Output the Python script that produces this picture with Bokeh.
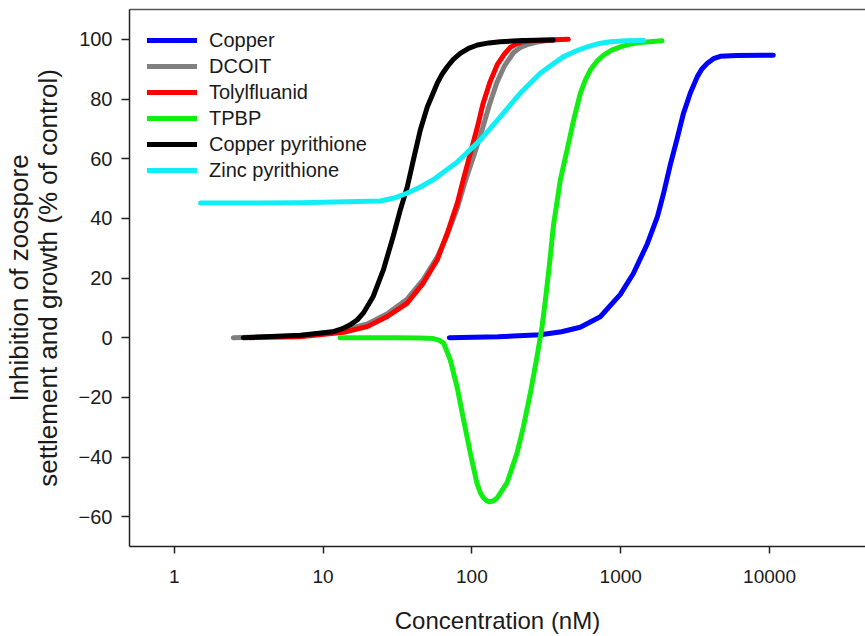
from bokeh.plotting import figure
from bokeh.models import Range1d, FixedTicker, LogAxis, Legend, LegendItem
from bokeh.embed import file_html
from bokeh.resources import INLINE

# ---- data (concentration in nM, inhibition in % of control) ----
copper_conc = [70.5, 150, 288, 400, 535, 729, 994, 1216, 1510, 1763, 1933, 2155, 2401, 2634, 2936, 3272, 3500, 3822, 4200, 4670, 6000, 10600]
copper_inh = [0, 0.3, 1, 2, 3.5, 7, 14.5, 21.5, 31.5, 40.5, 48, 58, 67, 75, 82, 87.5, 90, 92, 93.5, 94.3, 94.6, 94.7]

dcoit_conc = [2.49, 7, 13.7, 19.8, 27, 36.8, 47.1, 58.5, 68.3, 79.8, 90.3, 103, 117, 131, 147, 165, 190, 210, 235, 270, 311, 363]
dcoit_inh = [0, 0.6, 2.5, 4.6, 8, 13, 19.5, 27, 34.5, 43.5, 52.5, 61, 69.6, 78, 85.5, 91, 95.5, 97.2, 98.2, 99, 99.5, 99.8]

tolyl_conc = [3.2, 7, 13.7, 19.8, 27, 36.8, 47.1, 58.5, 68.3, 79.8, 87.5, 97.6, 109, 119, 133, 148, 165, 181, 200, 221, 260, 321, 444]
tolyl_inh = [0, 0.3, 1.8, 3.7, 7.1, 11.6, 18.3, 26.1, 35, 45.1, 52.9, 61.8, 70.7, 78.6, 86, 91.5, 95, 97.3, 98.5, 99.2, 99.6, 99.8, 100]

tpbp_conc = [13, 30, 45, 55, 60, 64.5, 71.6, 79.4, 87.9, 97.6, 108, 114, 120, 126, 131.6, 139, 147.5, 172, 201, 222, 247, 274, 296, 312, 331, 354, 393, 436, 483, 535, 580, 625, 690, 768, 870, 994, 1160, 1355, 1895]
tpbp_inh = [0, 0, -0.1, -0.3, -0.8, -1.8, -7.5, -16.4, -27.5, -38.7, -48.7, -52, -53.8, -54.7, -55, -54.7, -53.8, -48.7, -38.7, -29.8, -18.6, -6.3, 3.7, 12.7, 24, 38, 52.9, 62.9, 73, 81.9, 86.5, 89.7, 92.6, 94.7, 96.4, 97.5, 98.4, 98.9, 99.5]

cupyr_conc = [2.91, 7.03, 11.7, 13.5, 15.2, 17, 18.6, 20, 21.7, 25.4, 29.6, 33.0, 36.8, 40.4, 45.0, 50.2, 58.5, 63, 68.3, 75, 83.5, 95, 109, 130, 155, 220, 352]
cupyr_inh = [0, 0.8, 2, 3, 4.3, 6, 8.2, 10.8, 13.8, 22.7, 34, 42.8, 50.6, 59.5, 69.6, 77.4, 85.3, 88.3, 90.8, 93.3, 95.3, 97, 98.1, 98.8, 99.2, 99.6, 99.8]

znpyr_conc = [1.5, 7.03, 24.2, 30, 36.6, 45, 55.3, 79.4, 114, 155, 211, 288, 350, 413, 500, 594, 700, 851, 1100, 1426]
znpyr_inh = [45.1, 45.2, 45.8, 46.8, 48.4, 50.5, 53, 58.8, 66.3, 74, 81.9, 88.6, 91.7, 94.2, 96.1, 97.5, 98.5, 99.2, 99.5, 99.6]

series_names = ["Copper", "DCOIT", "Tolylfluanid", "TPBP", "Copper pyrithione", "Zinc pyrithione"]
series_colors = ["#0000ff", "#808080", "#ff0000", "#11ee11", "#000000", "#11eef5"]
series_x = [copper_conc, dcoit_conc, tolyl_conc, tpbp_conc, cupyr_conc, znpyr_conc]
series_y = [copper_inh, dcoit_inh, tolyl_inh, tpbp_inh, cupyr_inh, znpyr_inh]

x_ticks = [1, 10, 100, 1000, 10000]
y_ticks = [-60, -40, -20, 0, 20, 40, 60, 80, 100]

FONT = "Liberation Sans"
TXT = "#1a1a1a"

p = figure(width=865, height=636, x_axis_type="log",
           x_range=Range1d(0.5, 44150), y_range=Range1d(-70, 110),
           output_backend="svg", toolbar_location=None,
           min_border_left=129, min_border_right=0, min_border_top=9, min_border_bottom=90)
p.grid.visible = False
p.outline_line_color = None
p.background_fill_color = "white"

items = []
for name, col, xs, ys in zip(series_names, series_colors, series_x, series_y):
    r = p.line(xs, ys, line_color=col, line_width=5, line_cap="round", line_join="round")
    items.append(LegendItem(label=name, renderers=[r]))

leg = Legend(items=items, location="top_left", glyph_width=50, glyph_height=26, spacing=0,
             padding=10, margin=8, label_standoff=12, label_text_font=FONT,
             label_text_font_size="20px", label_text_color=TXT,
             border_line_alpha=0, background_fill_alpha=0)
p.add_layout(leg)

xa = p.xaxis[0]
xa.ticker = FixedTicker(ticks=x_ticks)
xa.major_label_overrides = {t: str(t) for t in x_ticks}
xa.minor_tick_line_color = None
xa.major_tick_in = 0
xa.major_tick_out = 7
xa.major_label_standoff = 16
xa.axis_label = "Concentration (nM)"
xa.axis_label_standoff = 21
xa.major_label_text_font_size = "19px"

ya = p.yaxis[0]
ya.ticker = FixedTicker(ticks=y_ticks)
ya.minor_tick_line_color = None
ya.major_tick_in = 0
ya.major_tick_out = 8
ya.major_label_standoff = 9
ya.axis_label = "Inhibition of zoospore\nsettlement and growth (% of control)"
ya.axis_label_standoff = 13
ya.axis_label_text_line_height = 0.96
ya.major_label_text_font_size = "20px"

for ax in (xa, ya):
    ax.axis_line_color = "#222222"
    ax.axis_line_width = 1.5
    ax.major_tick_line_color = "#222222"
    ax.major_tick_line_width = 1.5
    ax.major_label_text_font = FONT
    ax.major_label_text_color = TXT
    ax.axis_label_text_font = FONT
    ax.axis_label_text_font_style = "normal"
    ax.axis_label_text_color = TXT

xa.axis_label_text_font_size = "24px"
ya.axis_label_text_font_size = "26px"

top = LogAxis(ticker=FixedTicker(ticks=[]), major_tick_out=0, major_tick_in=0,
              minor_tick_out=0, minor_tick_in=0, major_label_text_font_size="0px",
              major_label_standoff=0, axis_line_color="#555555", axis_line_width=1.5)
p.add_layout(top, "above")

open("out.html", "w").write(file_html(p, INLINE))
